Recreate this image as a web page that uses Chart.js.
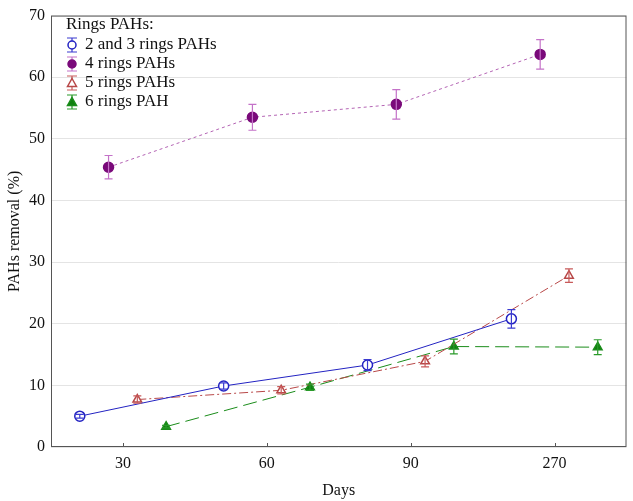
<!DOCTYPE html>
<html>
<head>
<meta charset="utf-8">
<script src="https://cdn.jsdelivr.net/npm/chart.js@4"></script>
<style>
  html, body { margin: 0; padding: 0; background: #fff; }
  #wrap { width: 633px; height: 501px; }
</style>
</head>
<body>
<div id="wrap"><canvas id="chart" width="633" height="501"></canvas></div>
<script>
// data
const dayLabels = ["30", "60", "90", "270"];
const seriesNames = ["2 and 3 rings PAHs", "4 rings PAHs", "5 rings PAHs", "6 rings PAH"];

const ring23 = [5.0, 9.9, 13.3, 20.8];
const ring23Err = [0.3, 0.5, 0.9, 1.5];
const ring4 = [45.4, 53.5, 55.6, 63.7];
const ring4Err = [1.9, 2.1, 2.4, 2.4];
const ring5 = [7.7, 9.2, 13.9, 27.8];
const ring5Err = [0.6, 0.6, 0.9, 1.1];
const ring6 = [3.3, 9.7, 16.3, 16.2];
const ring6Err = [0.2, 0.5, 1.2, 1.2];

// each series is shifted a bit around its day so the error bars don't overlap
const dodge = [-0.3, -0.1, 0.1, 0.3];

const FONT = "'Liberation Serif', 'DejaVu Serif', serif";

function toPoints(values, k) {
  return values.map((v, i) => ({ x: i + 1 + dodge[k], y: v }));
}

const styles = [
  { color: "#2323c2", bar: "#3a3ad0", dash: [], point: "circle", fill: "#ffffff", radius: 5 },
  { color: "#b464b4", bar: "#c472c8", dash: [3, 3], point: "circle", fill: "#7a0a7a", pcolor: "#7a0a7a", radius: 5 },
  { color: "#b84848", bar: "#c85a5a", dash: [9, 3, 2, 3], point: "triangle", fill: "#ffffff", radius: 5 },
  { color: "#1a8c1a", bar: "#2a9a2a", dash: [14, 6], point: "triangle", fill: "#108010", radius: 5 }
];
const errors = [ring23Err, ring4Err, ring5Err, ring6Err];

const datasets = [ring23, ring4, ring5, ring6].map((vals, k) => ({
  label: seriesNames[k],
  data: toPoints(vals, k),
  borderColor: styles[k].color,
  borderWidth: 1,
  borderDash: styles[k].dash,
  pointStyle: styles[k].point,
  pointRadius: styles[k].radius,
  pointBackgroundColor: styles[k].fill,
  pointBorderColor: styles[k].pcolor || styles[k].color,
  pointBorderWidth: 1.5,
  tension: 0,
  fill: false
}));

const errorBars = {
  id: "errorBars",
  afterDatasetsDraw(chart) {
    const ctx = chart.ctx;
    const ys = chart.scales.y;
    chart.data.datasets.forEach((ds, k) => {
      const meta = chart.getDatasetMeta(k);
      ctx.save();
      ctx.strokeStyle = styles[k].bar;
      ctx.lineWidth = 1.2;
      meta.data.forEach((pt, i) => {
        const v = ds.data[i].y, e = errors[k][i];
        const top = ys.getPixelForValue(v + e);
        const bot = ys.getPixelForValue(v - e);
        ctx.beginPath();
        ctx.moveTo(pt.x, top); ctx.lineTo(pt.x, bot);
        ctx.moveTo(pt.x - 4, top); ctx.lineTo(pt.x + 4, top);
        ctx.moveTo(pt.x - 4, bot); ctx.lineTo(pt.x + 4, bot);
        ctx.stroke();
      });
      ctx.restore();
    });
  }
};

const frame = {
  id: "frame",
  afterDraw(chart) {
    const ctx = chart.ctx;
    const a = chart.chartArea;
    const xs = chart.scales.x;
    ctx.save();
    ctx.strokeStyle = "#555";
    ctx.lineWidth = 1;
    ctx.strokeRect(a.left + 0.5, a.top + 0.5, a.right - a.left - 1, a.bottom - a.top - 1);
    ctx.beginPath();
    dayLabels.forEach((d, i) => {
      const px = Math.round(xs.getPixelForValue(i + 1)) + 0.5;
      ctx.moveTo(px, a.bottom); ctx.lineTo(px, a.bottom - 4);
    });
    ctx.stroke();

    // legend inside the plot, top left
    ctx.fillStyle = "#111";
    ctx.font = "17px " + FONT;
    ctx.textBaseline = "middle";
    ctx.textAlign = "left";
    ctx.fillText("Rings PAHs:", a.left + 15, 25);
    seriesNames.forEach((name, k) => {
      const cy = 45 + k * 19;
      const cx = a.left + 21;
      const s = styles[k];
      ctx.strokeStyle = s.bar;
      ctx.lineWidth = 1.2;
      ctx.beginPath();
      ctx.moveTo(cx, cy - 7); ctx.lineTo(cx, cy + 7);
      ctx.moveTo(cx - 5, cy - 7); ctx.lineTo(cx + 5, cy - 7);
      ctx.moveTo(cx - 5, cy + 7); ctx.lineTo(cx + 5, cy + 7);
      ctx.stroke();
      ctx.fillStyle = s.fill;
      ctx.strokeStyle = s.pcolor || s.color;
      ctx.lineWidth = 1.5;
      ctx.beginPath();
      if (s.point === "circle") {
        ctx.arc(cx, cy, 4, 0, Math.PI * 2);
      } else {
        ctx.moveTo(cx, cy - 4.5); ctx.lineTo(cx + 4.5, cy + 3.5); ctx.lineTo(cx - 4.5, cy + 3.5); ctx.closePath();
      }
      ctx.fill(); ctx.stroke();
      ctx.fillStyle = "#111";
      ctx.fillText(name, a.left + 34, cy);
    });
    ctx.restore();
  }
};

new Chart(document.getElementById("chart"), {
  type: "line",
  data: { datasets },
  options: {
    responsive: false,
    animation: false,
    layout: { padding: { top: 7, right: 5, left: 0, bottom: 0 } },
    plugins: { legend: { display: false }, tooltip: { enabled: false } },
    scales: {
      x: {
        type: "linear",
        min: 0.5,
        max: 4.5,
        grid: { display: false, drawTicks: false },
        border: { display: false },
        afterBuildTicks: s => { s.ticks = dayLabels.map((d, i) => ({ value: i + 1 })); },
        ticks: {
          padding: 7,
          color: "#111",
          font: { family: FONT, size: 16 },
          callback: v => dayLabels[Math.round(v) - 1] || ""
        },
        title: { display: true, text: "Days", color: "#111", font: { family: FONT, size: 16 }, padding: { top: 0, bottom: 1 } },
        afterFit: s => { s.height = 54; }
      },
      y: {
        min: 0,
        max: 70,
        grid: { color: "#e4e4e4", drawTicks: false },
        border: { display: false },
        ticks: {
          stepSize: 10,
          padding: 6,
          color: "#111",
          font: { family: FONT, size: 16 }
        },
        title: { display: true, text: "PAHs removal (%)", color: "#111", font: { family: FONT, size: 16 }, padding: { top: 5, bottom: 0 } },
        afterFit: s => { s.width = 51; }
      }
    }
  },
  plugins: [errorBars, frame]
});
</script>
</body>
</html>
